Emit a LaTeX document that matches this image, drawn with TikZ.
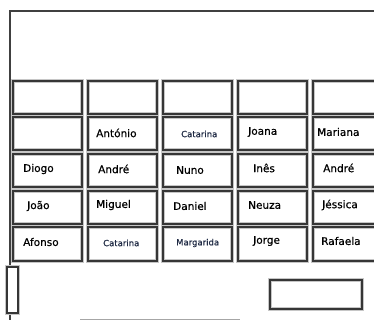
\documentclass[tikz,border=0pt]{standalone}
\usepackage{fontspec}
\setmainfont{DejaVu Sans}
\newfontfamily\heavy[FakeBold=0.6]{DejaVu Sans}
\definecolor{frame}{HTML}{404040}
\definecolor{navy}{HTML}{1F2A44}
\begin{document}
\begin{tikzpicture}[x=1pt,y=-1pt,
  seat/.style={preaction={draw=gray!45,line width=3.4pt},draw=frame!85!black,line width=1.9pt},
  lbl/.style={anchor=west,inner sep=0pt,font=\heavy\fontsize{10.5}{12}\selectfont,text=black},
  lblsm/.style={anchor=west,inner sep=0pt,font=\heavy\fontsize{8.5}{10}\selectfont,text=navy}]
\useasboundingbox (0,0) rectangle (374,320);
% frame
\coordinate (tl) at (10,11);
\coordinate (tr) at (375,11);
\coordinate (bl) at (10,321);
\draw[frame,line width=2pt] (tr) -- (tl) -- (bl);
% seats
\foreach \c/\xa/\xb in {1/13/82,2/88/157,3/163/232,4/238/307,5/313/385}{
  \foreach \r/\ya/\yb in {1/81/114,2/117/150,3/154/187,4/191/224,5/227/261}{
    \path[seat] (\xa,\ya) rectangle (\xb,\yb);
    \coordinate (s\c\r) at ({(\xa+\xb)/2},{(\ya+\yb)/2});
  }
}
% door and desk
\draw[seat,fill=white,line width=1.4pt] (7,267) rectangle (18,313);
\draw[seat,line width=1.4pt] (270,280) rectangle (362,309);
\coordinate (b1) at (80,319.5);
\coordinate (b2) at (240,319.5);
\draw[gray!70,line width=1.6pt] (b1) -- (b2);
% names row 2
\node[lbl] (n22) at (96,133) {António};
\node[lblsm] (n32) at (181,134) {Catarina};
\node[lbl] (n42) at (248,132) {Joana};
\node[lbl] (n52) at (317,132) {Mariana};
% row 3
\node[lbl] (n13) at (23,169) {Diogo};
\node[lbl] (n23) at (98,169) {André};
\node[lbl] (n33) at (176,170) {Nuno};
\node[lbl] (n43) at (253,168) {Inês};
\node[lbl] (n53) at (323,168) {André};
% row 4
\node[lbl] (n14) at (27,206) {João};
\node[lbl] (n24) at (96,205) {Miguel};
\node[lbl] (n34) at (173,206) {Daniel};
\node[lbl] (n44) at (248,205) {Neuza};
\node[lbl] (n54) at (322,205) {Jéssica};
% row 5
\node[lbl] (n15) at (23,242) {Afonso};
\node[lblsm] (n25) at (103,243) {Catarina};
\node[lblsm] (n35) at (176,243) {Margarida};
\node[lbl] (n45) at (253,241) {Jorge};
\node[lbl] (n55) at (321,241) {Rafaela};
\end{tikzpicture}
\end{document}
